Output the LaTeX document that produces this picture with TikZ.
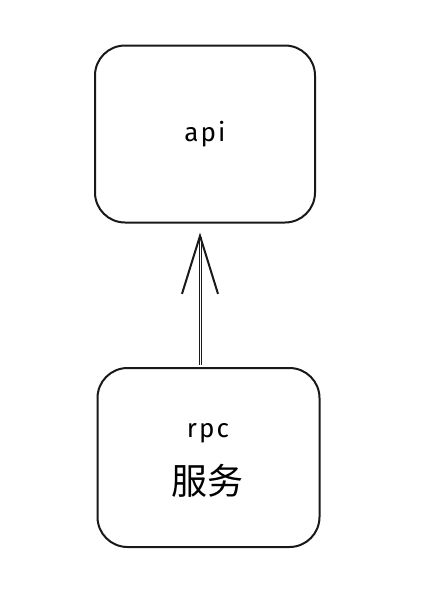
\documentclass[tikz,border=0pt]{standalone}
\usepackage{fontspec}
\setmainfont{Fira Sans}
\newfontfamily\cjk{Noto Sans CJK SC}
\newfontfamily\hand[LetterSpace=8]{Fira Sans}
\usetikzlibrary{arrows.meta,calc}
\begin{document}
\begin{tikzpicture}[x=1pt,y=-1pt,
  sketchbox/.style={draw=black!90,line width=2pt,rounded corners=30pt,inner sep=0pt,align=center},
  link/.style={draw=black!90,line width=1.1pt,double distance=0.8pt,
    -{Straight Barb[length=58pt,width=36pt,line width=2pt]}}]
\useasboundingbox[fill=white] (0,0) rectangle (445,603);
\node[sketchbox,minimum width=220pt,minimum height=177pt] (api) at (205,134)
  {\hand\fontsize{26}{28}\selectfont api};
\node[sketchbox,minimum width=222pt,minimum height=179pt] (rpc) at (208.5,457.5) {};
\node (rpclbl) at (208,433) {\hand\fontsize{26}{28}\selectfont rpc};
\node (svc) at (207,481) {\cjk\fontsize{36}{38}\selectfont 服务};
\coordinate (ax) at (200,300);
\draw[link] ($(ax |- rpc.north)+(0,-2)$) -- ($(ax |- api.south)+(0,9)$);
\end{tikzpicture}
\end{document}
